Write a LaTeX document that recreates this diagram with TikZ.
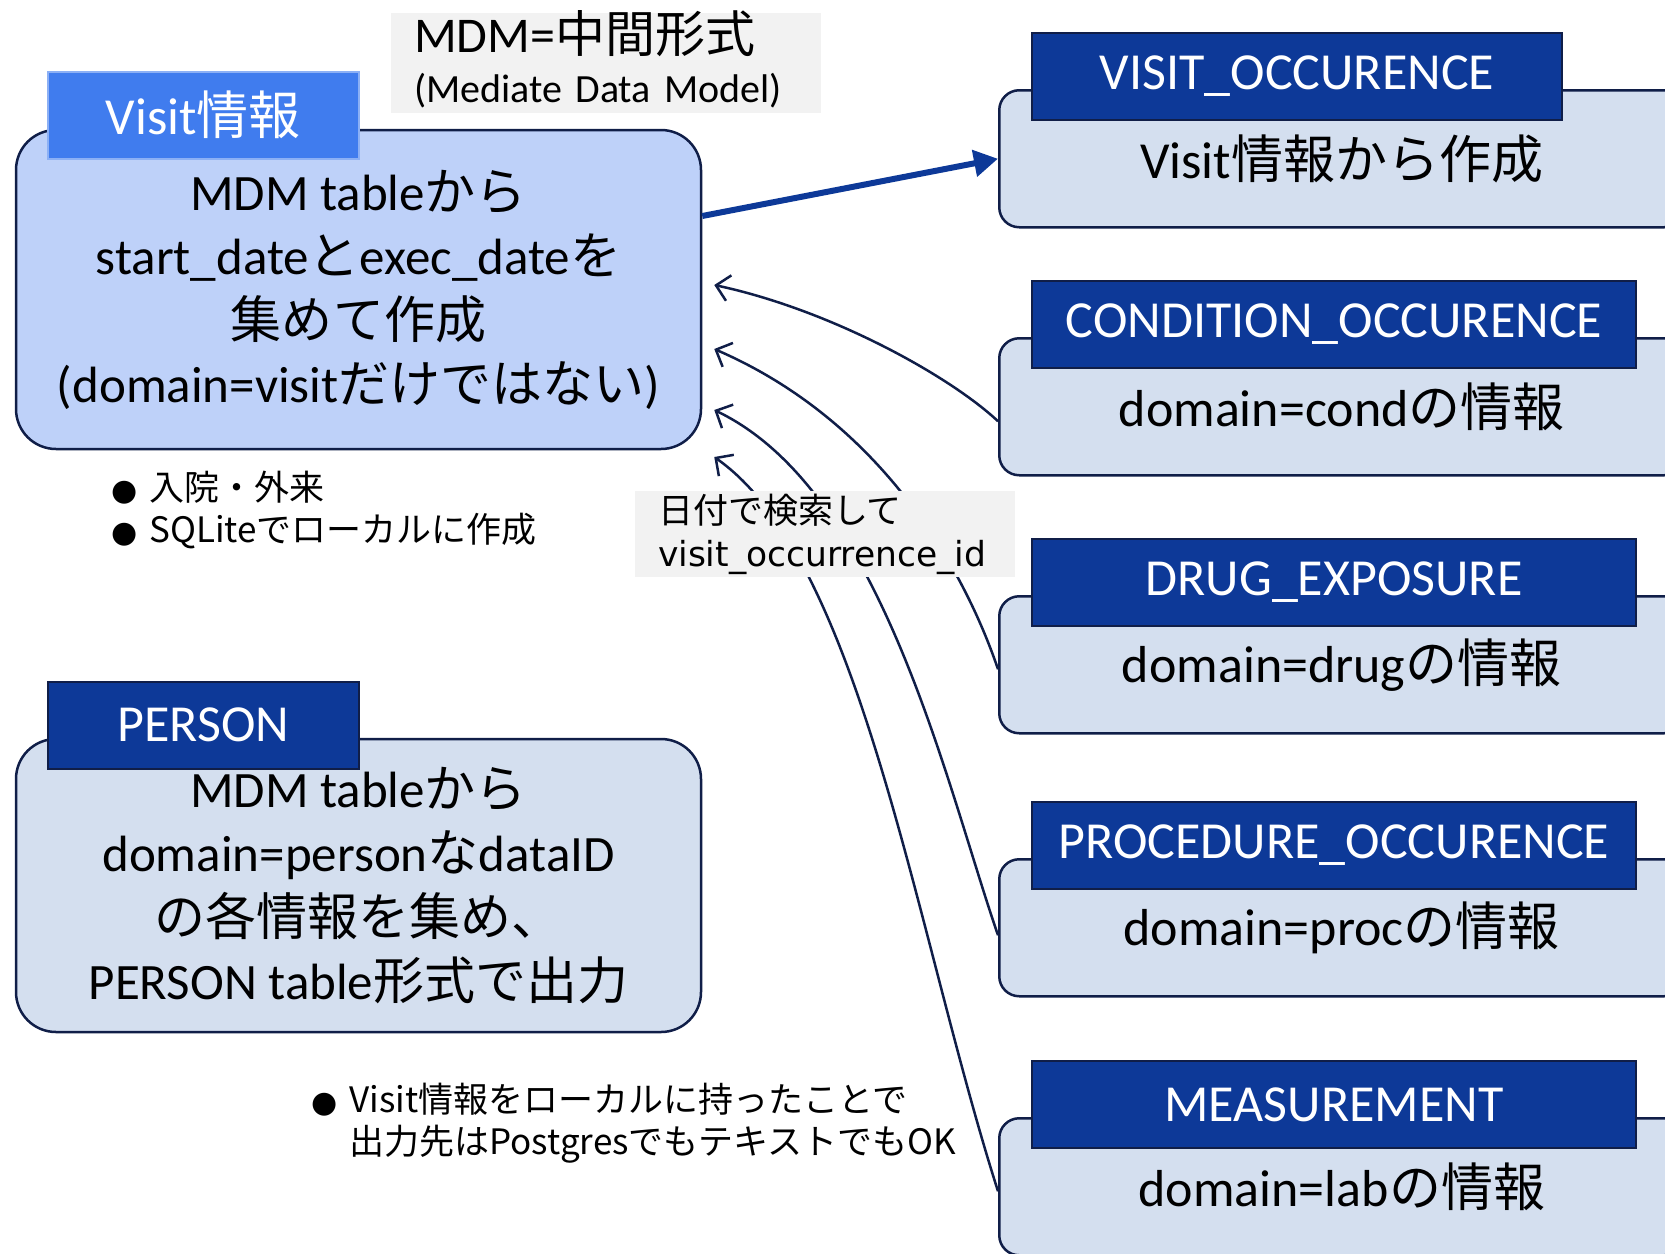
\documentclass[tikz,border=0pt]{standalone}
\usepackage{fontspec}
\setmainfont{Carlito}
\newfontfamily\jpfont{Noto Sans CJK JP}
\newfontfamily\notefont{DejaVu Sans}
\usetikzlibrary{arrows.meta,positioning}

\definecolor{navy}{RGB}{16,30,72}
\definecolor{headblue}{RGB}{13,57,152}
\definecolor{visitblue}{RGB}{64,124,238}
\definecolor{visitedge}{RGB}{140,176,245}
\definecolor{visitfill}{RGB}{190,209,249}
\definecolor{tablefill}{RGB}{212,223,239}
\definecolor{notegray}{RGB}{242,242,242}

\newcommand{\ja}[1]{{\jpfont #1}}
\newcommand{\bulletmark}{{\notefont\fontsize{30}{30}\selectfont ●}}

\begin{document}
\begin{tikzpicture}[x=1pt, y=-1pt,
every node/.style={inner sep=0pt},
body/.style={draw=navy, line width=2.5pt, fill=tablefill, align=center,
    font=\fontsize{51}{64}\selectfont},
leftbody/.style={body, minimum width=685pt, rounded corners=40pt},
tablebody/.style={body, minimum width=685pt, minimum height=137pt,
    rounded corners=20pt, anchor=north west, font=\fontsize{52}{64}\selectfont},
head/.style={draw=navy, line width=2pt, fill=headblue, text=white,
    minimum height=87pt, anchor=north west, font=\fontsize{52}{60}\selectfont},
note/.style={fill=notegray, align=left, inner xsep=23pt},
bullets/.style={align=left, anchor=west, font=\jpfont\fontsize{35}{42}\selectfont},
link/.style={draw=navy, line width=2.5pt, -{Straight Barb[length=13pt,width=26pt]}},
mainlink/.style={draw=headblue, line width=6pt, -{Triangle[length=24pt,width=26pt]}},
]
\useasboundingbox (0,0) rectangle (1665,1253);
\clip (0,0) rectangle (1665,1253);

% title
\node[note, text width=384pt, minimum height=100pt, inner ysep=-4pt,
  font=\fontsize{40}{44}\selectfont] (mdm) at (606,63)
  {\begin{tabular}{@{}l@{}}
   {\fontsize{50}{50}\selectfont MDM=\ja{中間形式}}\\[6pt]
   (Mediate Data Model)
   \end{tabular}};

% left side
\node[leftbody, fill=visitfill, minimum height=319pt] (visit) at (358.5,289.5)
  {MDM table\ja{から}\\
   start\_date\ja{と}exec\_date\ja{を}\\
   \ja{集めて作成}\\
   (domain=visit\ja{だけではない})};
\node[head, fill=visitblue, draw=visitedge, minimum width=311pt] (visithead)
  at ([shift={(32,-58)}]visit.north west) {Visit\ja{情報}};

\node[bullets] (visitnotes) at (111,513)
  {\begin{tabular}{@{}l@{\hspace{12pt}}l@{}}
   \bulletmark & 入院・外来\\
   \bulletmark & SQLiteでローカルに作成
   \end{tabular}};

\node[leftbody, minimum height=293pt] (person) at (358.5,885.5)
  {MDM table\ja{から}\\
   domain=person\ja{な}dataID\\
   \ja{の各情報を集め、}\\
   PERSON table\ja{形式で出力}};
\node[head, minimum width=311pt] (personhead)
  at ([shift={(32,-57)}]person.north west) {PERSON};

\node[bullets] (personnotes) at (311,1125)
  {\begin{tabular}{@{}l@{\hspace{12pt}}l@{}}
   \bulletmark & Visit情報をローカルに持ったことで\\
   & 出力先はPostgresでもテキストでもOK
   \end{tabular}};

% right side
\node[tablebody] (vo) at (998,89) {Visit\ja{情報から作成}};
\node[head, minimum width=530pt] (vohead) at ([shift={(33,-57)}]vo.north west)
  {VISIT\_OCCURENCE};

\node[tablebody] (cond) at (998,337) {domain=cond\ja{の情報}};
\node[head, minimum width=604pt] (condhead) at ([shift={(33,-57)}]cond.north west)
  {CONDITION\_OCCURENCE};

\node[tablebody] (drug) at (998,595) {domain=drug\ja{の情報}};
\node[head, minimum width=604pt] (drughead) at ([shift={(33,-57)}]drug.north west)
  {DRUG\_EXPOSURE};

\node[tablebody] (proc) at (998,858) {domain=proc\ja{の情報}};
\node[head, minimum width=604pt] (prochead) at ([shift={(33,-57)}]proc.north west)
  {PROCEDURE\_OCCURENCE};

\node[tablebody] (meas) at (998,1117) {domain=lab\ja{の情報}};
\node[head, minimum width=604pt] (meashead) at ([shift={(33,-57)}]meas.north west)
  {MEASUREMENT};

% connectors
\draw[mainlink] ([yshift=73.5pt]visit.east) -- (vo.west);

\draw[link] ([yshift=-14.5pt]cond.west) .. controls +(-48,-45) and +(117,25)
  .. ([xshift=12pt,yshift=4.5pt]visit.east);
\draw[link] ([yshift=-4.5pt]drug.west) .. controls +(-23,-68) and +(187,81)
  .. ([xshift=12pt,yshift=-59.5pt]visit.east);
\draw[link] ([yshift=-7.5pt]proc.west) .. controls +(-53,-154) and +(167,80)
  .. ([xshift=12pt,yshift=-120.5pt]visit.east);
\draw[link] ([yshift=-4.5pt]meas.west) .. controls +(-83,-260) and +(147,103)
  .. ([xshift=12pt,yshift=-167.5pt]visit.east);

\node[note, text width=334pt, minimum height=86pt, font=\fontsize{35}{43}\selectfont]
  (search) at (825,534)
  {\ja{日付で検索して}\\
   {\notefont\fontsize{34.5}{43}\selectfont visit\_occurrence\_id}};
\end{tikzpicture}
\end{document}
